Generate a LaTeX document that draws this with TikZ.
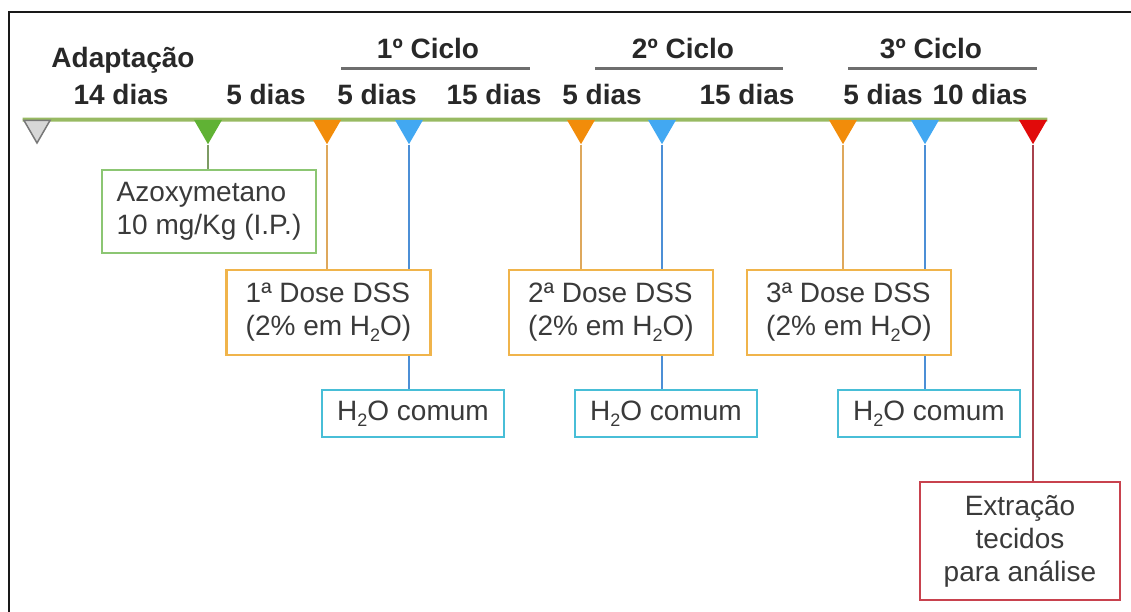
\documentclass[tikz,border=0pt]{standalone}
\usepackage{fontspec}
\setmainfont{Liberation Sans}
\usetikzlibrary{shapes.geometric,backgrounds}

\definecolor{linhaverde}{RGB}{152,186,98}
\definecolor{textoescuro}{RGB}{40,40,40}
\definecolor{textobox}{RGB}{58,58,58}
\definecolor{sublinhado}{RGB}{110,110,110}
\definecolor{cinzaborda}{RGB}{120,120,120}
\definecolor{cinzafundo}{RGB}{215,215,215}
\definecolor{verdemarco}{RGB}{96,178,52}
\definecolor{laranjamarco}{RGB}{242,140,10}
\definecolor{azulmarco}{RGB}{66,168,242}
\definecolor{vermmarco}{RGB}{225,10,10}
\definecolor{hasteverde}{RGB}{125,155,100}
\definecolor{hastelaranja}{RGB}{222,168,92}
\definecolor{hasteazul}{RGB}{76,143,214}
\definecolor{hasteverm}{RGB}{168,66,78}
\definecolor{bordaverde}{RGB}{140,198,115}
\definecolor{bordalaranja}{RGB}{240,180,75}
\definecolor{bordaazul}{RGB}{72,190,215}
\definecolor{bordaverm}{RGB}{200,66,78}

\newcommand{\hdoiso}{H\raisebox{-.22em}{\fontsize{18}{18}\selectfont 2}O}

\tikzset{
	moldura/.style={draw=black!90, line width=2.5pt},
	linhatempo/.style={draw=linhaverde, line width=4pt},
	sublinha/.style={draw=sublinhado, line width=3pt},
	marco/.style={regular polygon, regular polygon sides=3, shape border rotate=180,
		minimum size=32.4pt, inner sep=0pt},
	rotulo/.style={font=\fontsize{28}{33}\selectfont\bfseries, text=textoescuro, anchor=base, inner sep=0pt},
	caixa/.style={line width=2.5pt, fill=white, align=left, text=textobox, inner sep=0pt},
	caixadose/.style={caixa, draw=bordalaranja, minimum width=204pt, minimum height=85pt},
	caixaagua/.style={caixa, draw=bordaazul, minimum width=182pt, minimum height=47pt},
	haste/.style={line width=2.8pt}
}

\begin{document}
\begin{tikzpicture}[x=1pt, y=-1pt, font=\fontsize{28}{33}\selectfont]
		\useasboundingbox (0,0) rectangle (1131,612);
		\draw [moldura](9,612) -- (9,12) -- (1131,12);

		\node (adapt)[rotulo] at (123,68)   {Adaptação};
		\node (c1)[rotulo] at (428,59)   {1º Ciclo};
		\node (c2)[rotulo] at (683,59)   {2º Ciclo};
		\node (c3)[rotulo] at (931,59)   {3º Ciclo};

		\coordinate (s1a) at (341,69);
		\coordinate (s1b) at (530,69);
		\coordinate (s2a) at (595,69);
		\coordinate (s2b) at (783,69);
		\coordinate (s3a) at (848,69);
		\coordinate (s3b) at (1037,69);
		\draw [sublinha](s1a) -- (s1b);
		\draw [sublinha](s2a) -- (s2b);
		\draw [sublinha](s3a) -- (s3b);

		\node (d1)[rotulo] at (121,105)   {14 dias};
		\node (d2)[rotulo] at (266,105)   {5 dias};
		\node (d3)[rotulo] at (377,105)   {5 dias};
		\node (d4)[rotulo] at (494,105)   {15 dias};
		\node (d5)[rotulo] at (602,105)   {5 dias};
		\node (d6)[rotulo] at (747,105)   {15 dias};
		\node (d7)[rotulo] at (883,105)   {5 dias};
		\node (d8)[rotulo] at (980,105)   {10 dias};

		\node (tcinza)[marco, fill=cinzafundo, draw=cinzaborda, line width=1.5pt, minimum size=30pt] at (37,128) {};
		\node (tverde)[marco, fill=verdemarco] at (208,128) {};
		\node (tlar1)[marco, fill=laranjamarco] at (327,128) {};
		\node (tazul1)[marco, fill=azulmarco] at (409,128) {};
		\node (tlar2)[marco, fill=laranjamarco] at (581,128) {};
		\node (tazul2)[marco, fill=azulmarco] at (662,128) {};
		\node (tlar3)[marco, fill=laranjamarco] at (843,128) {};
		\node (tazul3)[marco, fill=azulmarco] at (925,128) {};
		\node (tverm)[marco, fill=vermmarco] at (1033,128) {};

		\node (azoxy)[caixa, draw=bordaverde, minimum width=214pt, minimum height=83pt] at (209,211.5) {Azoxymetano\\10 mg/Kg (I.P.)};

		\node (dose1)[caixadose] at (328.5,312.5) {1ª Dose DSS\\(2\% em \hdoiso)};
		\node (dose2)[caixadose] at (611,312.5) {2ª Dose DSS\\(2\% em \hdoiso)};
		\node (dose3)[caixadose] at (849,312.5) {3ª Dose DSS\\(2\% em \hdoiso)};

		\node (agua1)[caixaagua] at (413,413.5) {\hdoiso{} comum};
		\node (agua2)[caixaagua] at (666,413.5) {\hdoiso{} comum};
		\node (agua3)[caixaagua] at (929,413.5) {\hdoiso{} comum};

		\node (extr)[caixa, draw=bordaverm, align=center, minimum width=200pt, minimum height=118pt] at (1020,541) {Extração\\tecidos\\para análise};

		\begin{pgfonlayer}{background}
			\draw [linhatempo](tcinza.corner 3) -- (tverm.corner 2);

			\draw [haste, draw=hasteverde](tverde.south) -- (tverde.south |- azoxy.north);

			\draw [haste, draw=hastelaranja](tlar1.south) -- (tlar1.south |- dose1.north);
			\draw [haste, draw=hastelaranja](tlar2.south) -- (tlar2.south |- dose2.north);
			\draw [haste, draw=hastelaranja](tlar3.south) -- (tlar3.south |- dose3.north);

			\draw [haste, draw=hasteazul](tazul1.south) -- (tazul1.south |- agua1.north);
			\draw [haste, draw=hasteazul](tazul2.south) -- (tazul2.south |- agua2.north);
			\draw [haste, draw=hasteazul](tazul3.south) -- (tazul3.south |- agua3.north);

			\draw [haste, draw=hasteverm](tverm.south) -- (tverm.south |- extr.north);
		\end{pgfonlayer}
	\end{tikzpicture}
\end{document}
